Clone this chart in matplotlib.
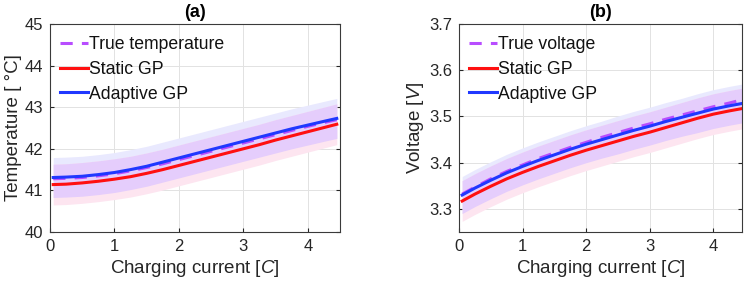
import numpy as np
import matplotlib
matplotlib.use("Agg")
import matplotlib.pyplot as plt

plt.rcParams['font.family'] = ['Liberation Sans', 'DejaVu Sans']
plt.rcParams['mathtext.fontset'] = 'custom'
plt.rcParams['mathtext.rm'] = 'Liberation Sans'
plt.rcParams['mathtext.it'] = 'Liberation Sans:italic'

# charging current [C]
current = [0.05, 0.25, 0.5, 0.75, 1.0, 1.25, 1.5, 1.75, 2.0, 2.25,
           2.5, 2.75, 3.0, 3.25, 3.5, 3.75, 4.0, 4.25, 4.45]

# (a) temperature
temp_true = [41.28, 41.29, 41.31, 41.35, 41.40, 41.47, 41.55, 41.64, 41.74, 41.84,
             41.94, 42.04, 42.14, 42.24, 42.34, 42.44, 42.54, 42.63, 42.70]
temp_static = [41.14, 41.15, 41.18, 41.22, 41.27, 41.33, 41.41, 41.50, 41.60, 41.70,
               41.80, 41.90, 42.00, 42.10, 42.21, 42.31, 42.41, 42.51, 42.59]
temp_adaptive = [41.31, 41.32, 41.34, 41.38, 41.43, 41.50, 41.58, 41.68, 41.78, 41.88,
                 41.98, 42.08, 42.18, 42.28, 42.38, 42.48, 42.57, 42.66, 42.73]
temp_static_std = [0.49] * 19
temp_adaptive_std = [0.48] * 19

# (b) voltage
volt_true = [3.332, 3.347, 3.365, 3.381, 3.395, 3.409, 3.421, 3.433, 3.444, 3.455,
             3.465, 3.475, 3.484, 3.494, 3.503, 3.512, 3.521, 3.529, 3.536]
volt_static = [3.317, 3.332, 3.349, 3.365, 3.379, 3.392, 3.404, 3.416, 3.427, 3.437,
               3.447, 3.457, 3.466, 3.476, 3.486, 3.496, 3.505, 3.512, 3.517]
volt_adaptive = [3.330, 3.345, 3.362, 3.378, 3.392, 3.405, 3.417, 3.429, 3.440, 3.450,
                 3.460, 3.470, 3.479, 3.489, 3.498, 3.507, 3.516, 3.523, 3.528]
volt_static_std = [0.044] * 19
volt_adaptive_std = [0.040] * 10 + [0.041] * 5 + [0.042] * 4

C_TRUE = '#b84dff'
C_STATIC = '#ff1010'
C_ADAPT = '#2038ff'


def draw_panel(ax, true, static, s_std, adapt, a_std, true_label):
    x = np.array(current)
    st, ss = np.array(static), np.array(s_std)
    ad, sa = np.array(adapt), np.array(a_std)
    ax.fill_between(x, ad - sa, ad + sa, color='#e9e9fe', lw=0)
    ax.fill_between(x, st - ss, st + ss, color='#fde5f0', lw=0)
    lo = np.maximum(ad - sa, st - ss)
    hi = np.minimum(ad + sa, st + ss)
    ax.fill_between(x, lo, hi, color='#e5cdfc', lw=0)
    ax.plot(x, true, '--', color=C_TRUE, lw=2.2, dashes=(4, 3), label=true_label)
    ax.plot(x, static, color=C_STATIC, lw=2.2, label='Static GP')
    ax.plot(x, adapt, color=C_ADAPT, lw=2.2, label='Adaptive GP')
    ax.grid(True, color='#e2e2e2', lw=0.7)
    ax.set_axisbelow(True)
    for s in ax.spines.values():
        s.set_color('#3a3a3a')
        s.set_linewidth(0.8)
    ax.tick_params(direction='in', length=3, labelsize=12, colors='#262626',
                   pad=5, top=False, right=True)
    ax.set_xticks([0, 1, 2, 3, 4])
    ax.set_xlabel('Charging current [$\\it{C}$]', fontsize=13.5, color='#262626', labelpad=3)
    leg = ax.legend(loc='upper left', frameon=False, fontsize=12.7, handlelength=1.6,
                    handletextpad=0.05, borderaxespad=0.15, labelspacing=0.45,
                    bbox_to_anchor=(0.0, 0.99))
    for t in leg.get_texts():
        t.set_color('#111111')


fig = plt.figure(figsize=(7.47, 2.91), dpi=100)
W, H = 747, 291
ax1 = fig.add_axes([50 / W, 1 - 232 / H, 290 / W, 208 / H])
ax2 = fig.add_axes([459 / W, 1 - 232 / H, 283 / W, 208 / H])

draw_panel(ax1, temp_true, temp_static, temp_static_std, temp_adaptive,
           temp_adaptive_std, 'True temperature')
ax1.set_xlim(0, 4.5)
ax1.set_ylim(40, 45)
ax1.set_yticks([40, 41, 42, 43, 44, 45])
ax1.set_ylabel('Temperature [ °C]', fontsize=13.5, color='#262626', labelpad=2)
ax1.set_title('(a)', fontsize=13, fontweight='bold', pad=5)

draw_panel(ax2, volt_true, volt_static, volt_static_std, volt_adaptive,
           volt_adaptive_std, 'True voltage')
ax2.set_xlim(0, 4.45)
ax2.set_ylim(3.25, 3.7)
ax2.set_yticks([3.3, 3.4, 3.5, 3.6, 3.7])
ax2.set_ylabel('Voltage [$\\it{V}$]', fontsize=13.5, color='#262626', labelpad=2)
ax2.set_title('(b)', fontsize=13, fontweight='bold', pad=5)

fig.savefig('out.png', dpi=100)
